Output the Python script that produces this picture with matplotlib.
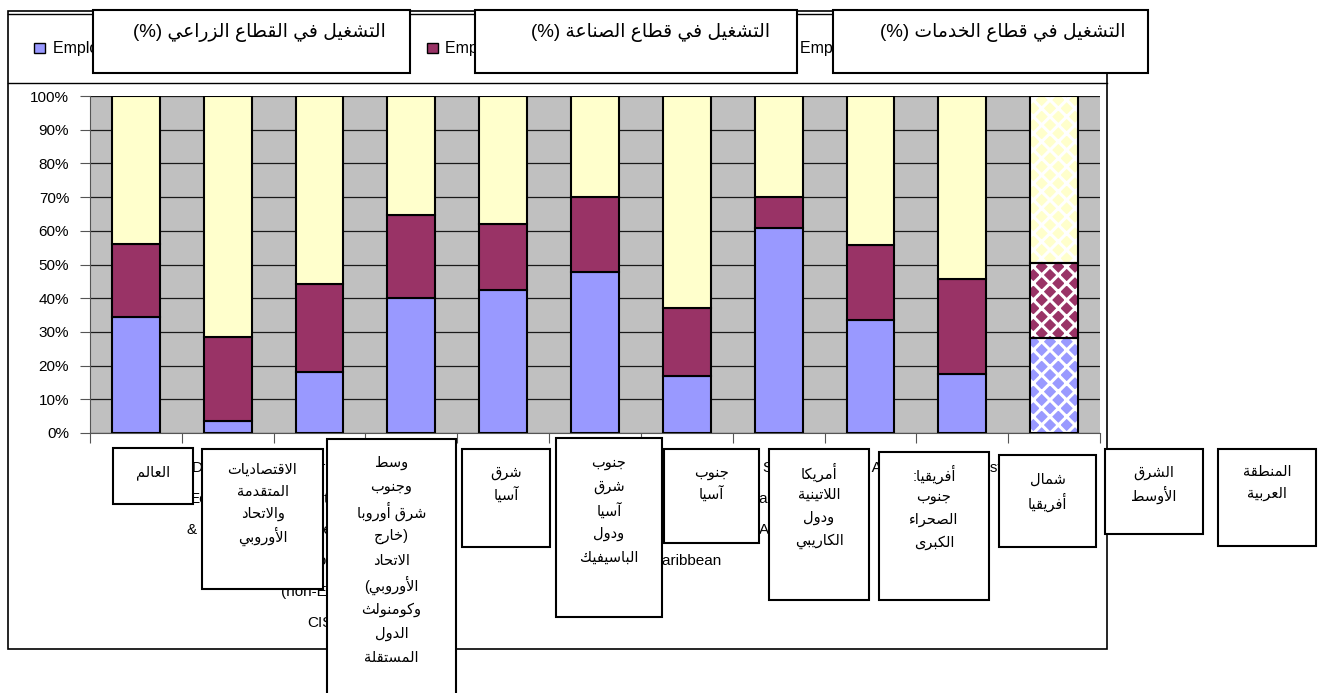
import numpy as np
import matplotlib
matplotlib.use("Agg")
import matplotlib.pyplot as plt
from matplotlib.patches import Rectangle
from matplotlib.lines import Line2D

# data (percent of total employment)
regions_en = ["World", "Developed\nEconomies\n& European\nUnion",
              "Central &\nSouth-\nEastern\nEurope\n(non-EU) &\nCIS", "East Asia",
              "South-East\nAsia & the\nPacific", "South Asia",
              "Latin\nAmerica &\nthe\nCaribbean", "Sub-\nSaharan\nAfrica", "North Africa",
              "Middle East", "Arab Region"]
regions_ar = ["العالم",
              "الاقتصاديات\nالمتقدمة\nوالاتحاد\nالأوروبي",
              "وسط\nوجنوب\nشرق أوروبا\n(خارج\nالاتحاد\nالأوروبي)\nوكومنولث\nالدول\nالمستقلة",
              "شرق\nآسيا",
              "جنوب\nشرق\nآسيا\nودول\nالباسيفيك",
              "جنوب\nآسيا",
              "أمريكا\nاللاتينية\nودول\nالكاريبي",
              "أفريقيا:\nجنوب\nالصحراء\nالكبرى",
              "شمال\nأفريقيا",
              "الشرق\nالأوسط",
              "المنطقة\nالعربية"]
sectors_en = ["Employment in agriculture (%)", "Employment in industry (%)",
              "Employment in services (%)"]
sectors_ar = ["التشغيل في القطاع الزراعي", "التشغيل في قطاع الصناعة",
              "التشغيل في قطاع الخدمات"]
agriculture = [34.4, 3.6, 18.1, 40.1, 42.4, 47.8, 16.9, 60.8, 33.5, 17.5, 28.2]
industry = [21.6, 24.9, 26.1, 24.6, 19.6, 22.2, 20.2, 9.2, 22.3, 28.2, 22.2]
services = [44.0, 71.5, 55.8, 35.3, 38.0, 30.0, 62.9, 30.0, 44.2, 54.3, 49.6]
colors = ["#9999FF", "#993366", "#FFFFCC"]

W, H = 1323, 693
plt.rcParams['font.family'] = ['Liberation Sans', 'DejaVu Sans']
plt.rcParams['hatch.linewidth'] = 2.2

# --- tiny arabic shaper (matplotlib has no text shaping / bidi) ---
DUAL = dict(zip("ئبتثجحخسشصضطظعغفقكلمنهي",
                [0xFE89, 0xFE8F, 0xFE95, 0xFE99, 0xFE9D, 0xFEA1, 0xFEA5, 0xFEB1,
                 0xFEB5, 0xFEB9, 0xFEBD, 0xFEC1, 0xFEC5, 0xFEC9, 0xFECD, 0xFED1,
                 0xFED5, 0xFED9, 0xFEDD, 0xFEE1, 0xFEE5, 0xFEE9, 0xFEF1]))
RIGHT = dict(zip("آأؤإاةدذرزوى",
                 [0xFE81, 0xFE83, 0xFE85, 0xFE87, 0xFE8D, 0xFE93, 0xFEA9, 0xFEAB,
                  0xFEAD, 0xFEAF, 0xFEED, 0xFEEF]))
LAM_ALEF = dict(zip("آأإا", [0xFEF5, 0xFEF7, 0xFEF9, 0xFEFB]))
MIRROR = {"(": ")", ")": "("}


def ar(text):
    units = []
    i = 0
    while i < len(text):
        if text[i] == "ل" and i + 1 < len(text) and text[i + 1] in LAM_ALEF:
            units.append(text[i:i + 2])
            i += 2
        else:
            units.append(text[i])
            i += 1

    def to_next(u):
        return u in DUAL

    def to_prev(u):
        return u in DUAL or u in RIGHT or len(u) == 2

    out = []
    for k, u in enumerate(units):
        prev = units[k - 1] if k > 0 else ""
        nxt = units[k + 1] if k + 1 < len(units) else ""
        p = to_prev(u) and to_next(prev)
        n = to_next(u) and nxt != "" and to_prev(nxt)
        if len(u) == 2:
            out.append(chr(LAM_ALEF[u[1]] + p))
        elif u in DUAL:
            out.append(chr(DUAL[u] + (3 if p and n else 1 if p else 2 if n else 0)))
        elif u in RIGHT:
            out.append(chr(RIGHT[u] + p))
        else:
            out.append(u)
    return "".join(out)[::-1]


def vis(line):
    # right-to-left line: punctuation at the logical ends swaps sides (and mirrors)
    core = line.strip("():")
    start = line.index(core)
    lead, trail = line[:start], line[start + len(core):]

    def flip(s):
        return "".join(MIRROR.get(c, c) for c in s[::-1])
    return flip(trail) + ar(core) + flip(lead)


def fx(px):
    return px / W


def fy(py):
    return 1 - py / H


fig = plt.figure(figsize=(W / 100, H / 100), dpi=100)


def rect(x0, y0, x1, y1, z=2, lw=1.5, face="white"):
    fig.patches.append(Rectangle((fx(x0), fy(y1)), fx(x1) - fx(x0), fy(y0) - fy(y1),
                                 transform=fig.transFigure, facecolor=face,
                                 edgecolor="black", lw=lw, zorder=z))


def hline(x0, x1, y, z=1):
    fig.add_artist(Line2D([fx(x0), fx(x1)], [fy(y), fy(y)], color="black", lw=1, zorder=z))


# chart frame + legend frame
fig.patches.append(Rectangle((fx(8), fy(649)), fx(1107) - fx(8), fy(11) - fy(649),
                             transform=fig.transFigure, fill=False, edgecolor="black",
                             lw=1.2, zorder=1))
hline(8, 1107, 14)
hline(8, 1107, 83)

# the plot
ax = fig.add_axes([fx(90), fy(433), fx(1100) - fx(90), fy(96) - fy(433)])
ax.set_facecolor("#C0C0C0")
n = len(regions_en)
x = np.arange(n)
bottom = np.zeros(n)
for vals, col in zip([agriculture, industry, services], colors):
    v = np.array(vals) / 100
    bars = ax.bar(x, v, 0.52, bottom=bottom, color=col, edgecolor="black", lw=1.5, zorder=3)
    last = bars[-1]
    last.set_hatch("xx")
    last.set_edgecolor("white")
    last.set_linewidth(0)
    ax.bar(x[-1], v[-1], 0.52, bottom=bottom[-1], fill=False, edgecolor="black", lw=1.5, zorder=4)
    bottom += v

ax.set_xlim(-0.5, n - 0.5)
ax.set_ylim(0, 1)
yt = np.arange(0, 1.01, 0.1)
ax.set_yticks(yt)
ax.set_yticklabels([f"{int(round(t * 100))}%" for t in yt])
ax.set_xticks(np.arange(-0.5, n, 1))
ax.set_xticklabels([])
ax.yaxis.grid(True, color="#1a1a1a", lw=0.9)
ax.set_axisbelow(True)
for s in ["top", "right"]:
    ax.spines[s].set_visible(False)
for s in ["left", "bottom"]:
    ax.spines[s].set_color("#555555")
ax.tick_params(axis="y", direction="out", length=7, pad=8, labelsize=11, color="#555555")
ax.tick_params(axis="x", direction="out", length=7, color="#555555")

# english category labels (mostly covered by the arabic boxes, as in the original)
for i, lab in enumerate(regions_en):
    for k, line in enumerate(lab.split("\n")):
        ax.annotate(line, xy=(i, 0), xycoords=("data", "axes fraction"),
                    xytext=(0, -(35 + 31 * k)), textcoords="offset pixels",
                    ha="center", va="center", fontsize=11)

# legend entries (mostly hidden by the arabic boxes)
for (sx, tx), col, lab in zip([(34, 53), (427, 445), (783, 800)], colors, sectors_en):
    rect(sx, 43, sx + 11, 53, z=1.5, lw=1, face=col)
    fig.text(fx(tx), fy(48), lab, fontsize=11.5, va="center", ha="left", zorder=1.5)

# arabic legend boxes
for (x0, x1, tx), lab in zip([(93, 410, 386), (475, 797, 770), (833, 1148, 1126)], sectors_ar):
    rect(x0, 10, x1, 73)
    fig.text(fx(tx), fy(33), "(%) " + ar(lab), fontsize=13.5, ha="right", va="center", zorder=3)

# arabic category boxes: x0, y0, x1, y1, first line y, line step
boxes = [(113, 448, 193, 504, 473, 22),
         (202, 449, 323, 589, 470, 22),
         (327, 439, 456, 700, 463, 24.4),
         (462, 449, 550, 547, 473, 22),
         (556, 438, 662, 617, 463, 23.7),
         (664, 449, 759, 543, 473, 21),
         (769, 449, 869, 600, 472, 23),
         (879, 452, 989, 600, 474, 23),
         (999, 455, 1096, 547, 480, 22),
         (1105, 449, 1203, 534, 473, 22),
         (1218, 449, 1316, 546, 472, 22)]
for (x0, y0, x1, y1, ty, step), lab in zip(boxes, regions_ar):
    rect(x0, y0, x1, y1)
    for k, line in enumerate(lab.split("\n")):
        fig.text(fx((x0 + x1) / 2), fy(ty + k * step), vis(line), fontsize=10.5,
                 ha="center", va="center", zorder=3)

fig.savefig("out.png", dpi=100)
